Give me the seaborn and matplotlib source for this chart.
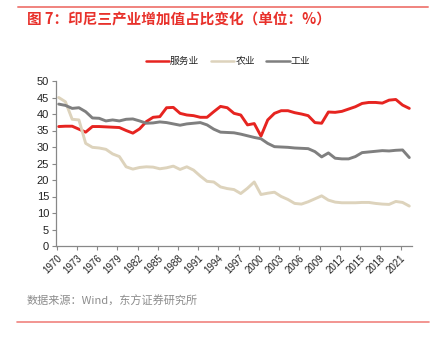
import matplotlib
matplotlib.use("Agg")
import matplotlib.pyplot as plt
import seaborn as sns
import pandas as pd
from matplotlib.lines import Line2D

years = list(range(1970, 2023))
services = [36.2, 36.3, 36.3, 35.4, 34.5, 36.2, 36.2, 36.1, 36.0, 35.9,
            35.0, 34.2, 35.5, 37.7, 39.0, 39.2, 41.9, 42.0, 40.2, 39.7,
            39.5, 39.0, 39.0, 40.7, 42.3, 41.9, 40.2, 39.7, 36.7, 37.1,
            33.3, 38.2, 40.2, 41.0, 41.0, 40.4, 40.0, 39.5, 37.4, 37.2,
            40.6, 40.5, 40.8, 41.5, 42.2, 43.2, 43.5, 43.5, 43.3, 44.2,
            44.4, 42.7, 41.7]
agriculture = [45.0, 43.7, 38.4, 38.2, 31.1, 29.9, 29.7, 29.3, 27.9, 27.1,
               24.0, 23.3, 23.8, 24.0, 23.9, 23.4, 23.7, 24.2, 23.2, 24.0,
               23.0, 21.2, 19.6, 19.4, 17.9, 17.4, 17.1, 15.9, 17.5, 19.4,
               15.6, 16.0, 16.3, 15.0, 14.1, 12.9, 12.7, 13.4, 14.3, 15.2,
               13.9, 13.3, 13.1, 13.1, 13.1, 13.2, 13.2, 12.9, 12.7, 12.6,
               13.5, 13.2, 12.1]
industry = [43.0, 42.6, 41.7, 41.9, 40.7, 38.8, 38.7, 37.9, 38.2, 37.9,
            38.4, 38.5, 37.9, 37.2, 37.3, 37.6, 37.4, 37.0, 36.6, 37.0,
            37.2, 37.4, 36.7, 35.4, 34.5, 34.4, 34.3, 33.9, 33.4, 32.9,
            32.5, 31.1, 30.1, 30.0, 29.9, 29.7, 29.6, 29.5, 28.6, 27.0,
            28.2, 26.6, 26.4, 26.4, 27.1, 28.3, 28.5, 28.7, 28.9, 28.8,
            29.0, 29.1, 26.8]
series_names = ["服务业", "农业", "工业"]
colors = ["#E62420", "#DDD3BC", "#7F7F7F"]
yticks = list(range(0, 51, 5))
xtick_years = years[::3]

title = "图 7：印尼三产业增加值占比变化（单位：%）"
source = "数据来源：Wind，东方证券研究所"

df = pd.DataFrame({"year": years * 3,
                   "value": services + agriculture + industry,
                   "series": [series_names[0]] * len(years)
                   + [series_names[1]] * len(years)
                   + [series_names[2]] * len(years)})

sns.set_theme(style="white")
cjk = ["Noto Sans CJK SC", "DejaVu Sans"]
plt.rcParams["font.family"] = ["Liberation Sans", "Noto Sans CJK SC", "DejaVu Sans"]

W, H = 446, 341
fig = plt.figure(figsize=(W / 100, H / 100), dpi=100)
ax = fig.add_axes([56 / W, 1 - 246 / H, (412 - 56) / W, (246 - 81) / H])

sns.lineplot(data=df, x="year", y="value", hue="series", hue_order=series_names,
             palette=colors, linewidth=2.1, ax=ax, legend=False)

ax.set_xlim(1969.6, 2022.4)
ax.set_ylim(0, 50)
ax.set_yticks(yticks)
ax.set_yticklabels([str(v) for v in yticks], fontsize=8, color="#222222")
ax.set_xticks([y - 0.3 for y in xtick_years])
ax.set_xticklabels([str(y) for y in xtick_years], rotation=45, ha="right",
                   rotation_mode="anchor", fontsize=7, color="#222222")
ax.set_xlabel("")
ax.set_ylabel("")
for s in ["top", "right"]:
    ax.spines[s].set_visible(False)
for s in ["left", "bottom"]:
    ax.spines[s].set_color("#888888")
    ax.spines[s].set_linewidth(0.9)
ax.tick_params(axis="both", which="major", direction="out", length=3, width=0.8,
               color="#888888", left=True, bottom=True, pad=2)

handles = [Line2D([0], [0], color=c, lw=1.8) for c in colors]
fig.legend(handles, series_names, loc="center", bbox_to_anchor=(228 / W, 1 - 61 / H),
           ncol=3, frameon=False, prop={"family": cjk, "size": 7},
           handlelength=2.4, columnspacing=1.2, handletextpad=0.1)

fig.text(27 / W, 1 - 19 / H, title, color="#E8312B", fontsize=10.5, fontweight="bold",
         family=cjk, va="center", ha="left")
fig.text(27 / W, 1 - 301 / H, source, color="#8C8C8C", fontsize=8,
         family=cjk, va="center", ha="left")

fig.add_artist(Line2D([18 / W, 428 / W], [1 - 7 / H, 1 - 7 / H], color="#F0837E", lw=1.4))
fig.add_artist(Line2D([17 / W, 429 / W], [1 - 322 / H, 1 - 322 / H], color="#F0837E", lw=1.2))

fig.savefig("out.png", dpi=100)
